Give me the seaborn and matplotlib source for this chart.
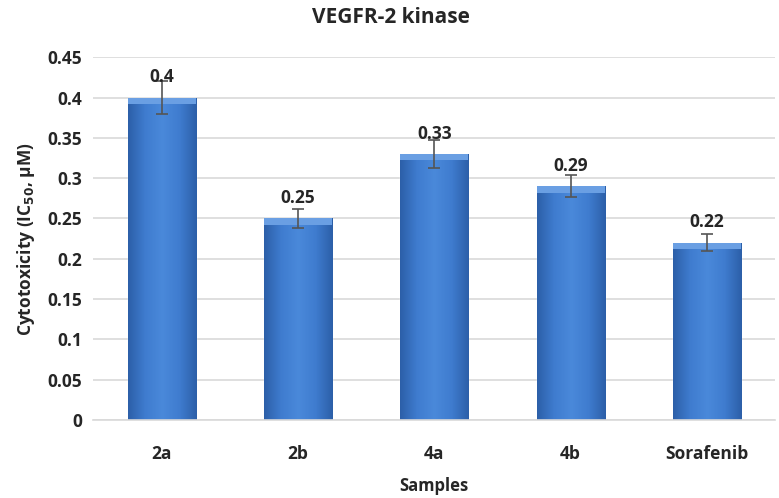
import seaborn as sns
import matplotlib.pyplot as plt
import numpy as np
import pandas as pd
from matplotlib.colors import LinearSegmentedColormap

samples = ['2a', '2b', '4a', '4b', 'Sorafenib']
ic50 = [0.4, 0.25, 0.33, 0.29, 0.22]
errors = [0.02, 0.012, 0.017, 0.014, 0.011]
labels = ['0.4', '0.25', '0.33', '0.29', '0.22']

df = pd.DataFrame({'Samples': samples, 'IC50': ic50})

sns.set_style('white')
plt.rcParams['font.family'] = ['Open Sans', 'DejaVu Sans']

fig, ax = plt.subplots(figsize=(7.79, 4.98), dpi=100)
sns.barplot(data=df, x='Samples', y='IC50', color='#3f7bcf', width=0.5, ax=ax)
ax.errorbar(range(len(samples)), ic50, yerr=errors, fmt='none',
            ecolor='#555555', elinewidth=1.2, capsize=4, capthick=1.2, zorder=4)

# shaded bar fill
cmap = LinearSegmentedColormap.from_list('bar', ['#2c5fa8', '#3f7ccf', '#4a89da', '#3f7ccf', '#2c5fa8'])
grad = np.linspace(0, 1, 256).reshape(1, -1)
for p in ax.patches:
    x0, w, h = p.get_x(), p.get_width(), p.get_height()
    im = ax.imshow(grad, cmap=cmap, aspect='auto', extent=(x0, x0 + w, 0, h), zorder=2)
    im.set_clip_path(p)
    ax.add_patch(plt.Rectangle((x0, h - 0.008), w, 0.008, color='#6a9fe3', zorder=3, lw=0))

for i, (v, t) in enumerate(zip(ic50, labels)):
    ax.text(i, v + 0.014, t, ha='center', va='bottom', fontsize=12.5, fontweight='bold', zorder=5)

ax.set_xlim(-0.5, len(samples) - 0.5)
ax.set_ylim(0, 0.45)
ax.set_yticks(np.arange(0, 0.451, 0.05))
ax.set_yticklabels(['0', '0.05', '0.1', '0.15', '0.2', '0.25', '0.3', '0.35', '0.4', '0.45'])
ax.yaxis.grid(True, color='#d9d9d9', lw=1.2)
ax.set_axisbelow(True)
for s in ['top', 'right', 'left']:
    ax.spines[s].set_visible(False)
ax.spines['bottom'].set_color('#d9d9d9')
ax.spines['bottom'].set_linewidth(1.2)
ax.tick_params(axis='y', length=0, labelsize=12.5, pad=8)
ax.tick_params(axis='x', length=0, labelsize=12.5, pad=18)
for lab in ax.get_xticklabels() + ax.get_yticklabels():
    lab.set_fontweight('bold')

fig.suptitle('VEGFR-2 kinase', fontsize=15, fontweight='bold', x=0.502, y=0.985)
ax.set_xlabel('Samples', fontsize=12, fontweight='bold', labelpad=10)
ax.set_ylabel('Cytotoxicity (IC$_{\\mathbf{50}}$, µM)', fontsize=12.5, fontweight='bold', labelpad=8)

plt.subplots_adjust(left=0.12, right=0.995, top=0.885, bottom=0.157)
plt.savefig('out.png', dpi=100)
